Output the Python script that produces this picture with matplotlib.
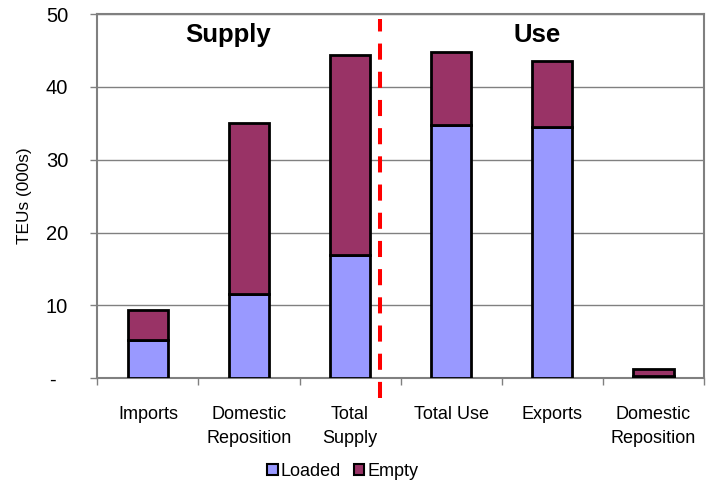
import matplotlib
matplotlib.use("Agg")
import matplotlib.pyplot as plt
import matplotlib.transforms as mtransforms
from matplotlib.ticker import FixedLocator, FixedFormatter
from matplotlib.patches import Patch

plt.rcParams['font.family'] = ['Liberation Sans', 'DejaVu Sans']

# TEU flows (thousands)
categories = ["Imports", "Domestic\nReposition", "Total\nSupply",
              "Total Use", "Exports", "Domestic\nReposition"]
loaded = [5.25, 11.6, 16.9, 34.8, 34.5, 0.25]
empty = [4.1, 23.5, 27.5, 10.0, 9.1, 1.0]
y_ticks = [0, 10, 20, 30, 40, 50]
y_tick_labels = ["-  ", "10", "20", "30", "40", "50"]

LOADED_COLOR = "#9999FF"
EMPTY_COLOR = "#993366"
GRID_COLOR = "#808080"
DIVIDER_X = 2.30

fig = plt.figure(figsize=(7.11, 4.83), dpi=100)
ax = fig.add_axes([0.1369, 0.2168, 0.990 - 0.1369, 0.971 - 0.2168])

x = list(range(len(categories)))
ax.bar(x, loaded, width=0.40, color=LOADED_COLOR, edgecolor="black",
       linewidth=2.0, zorder=3, label="Loaded")
ax.bar(x, empty, width=0.40, bottom=loaded, color=EMPTY_COLOR,
       edgecolor="black", linewidth=2.0, zorder=3, label="Empty")

ax.set_xlim(-0.5, len(categories) - 0.5)
ax.set_ylim(0, 50)

# y axis
ax.yaxis.set_major_locator(FixedLocator(y_ticks))
ax.yaxis.set_major_formatter(FixedFormatter(y_tick_labels))
ax.tick_params(axis="y", direction="out", length=5, width=1,
               color=GRID_COLOR, labelsize=14.5, pad=16)
ax.yaxis.grid(True, color=GRID_COLOR, linewidth=1, zorder=0)
ax.set_ylabel("TEUs (000s)", fontsize=12.4, labelpad=10)

# x axis: ticks at category boundaries, labels at centres
ax.set_xticks([i - 0.5 for i in range(len(categories) + 1)])
ax.set_xticklabels([])
ax.set_xticks(x, minor=True)
ax.set_xticklabels(categories, minor=True, fontsize=13, linespacing=1.5)
ax.tick_params(axis="x", which="major", direction="out", length=5,
               width=1, color=GRID_COLOR)
ax.tick_params(axis="x", which="minor", length=0, pad=20)

for side in ["left", "right", "top", "bottom"]:
    ax.spines[side].set_color(GRID_COLOR)
    ax.spines[side].set_linewidth(1.5)
ax.set_axisbelow(True)

# Supply / Use divider
trans = mtransforms.blended_transform_factory(ax.transData, ax.transAxes)
ax.plot([DIVIDER_X, DIVIDER_X], [-0.055, 0.986], transform=trans,
        color="#FF0000", linewidth=2.9, dashes=(4.0, 3.0), clip_on=False,
        zorder=5)

ax.text(0.79, 46.1, "Supply", fontsize=18.5, fontweight="bold",
        ha="center", va="baseline")
ax.text(3.85, 46.2, "Use", fontsize=18.5, fontweight="bold",
        ha="center", va="baseline")

handles = [Patch(facecolor=LOADED_COLOR, edgecolor="black", linewidth=1.5),
           Patch(facecolor=EMPTY_COLOR, edgecolor="black", linewidth=1.5)]
fig.legend(handles, ["Loaded", "Empty"], loc="center",
           bbox_to_anchor=(0.482, 0.024), ncol=2, frameon=False,
           fontsize=13, handlelength=0.6, handleheight=0.6,
           handletextpad=0.15, columnspacing=0.7)

fig.savefig("out.png", dpi=100)
